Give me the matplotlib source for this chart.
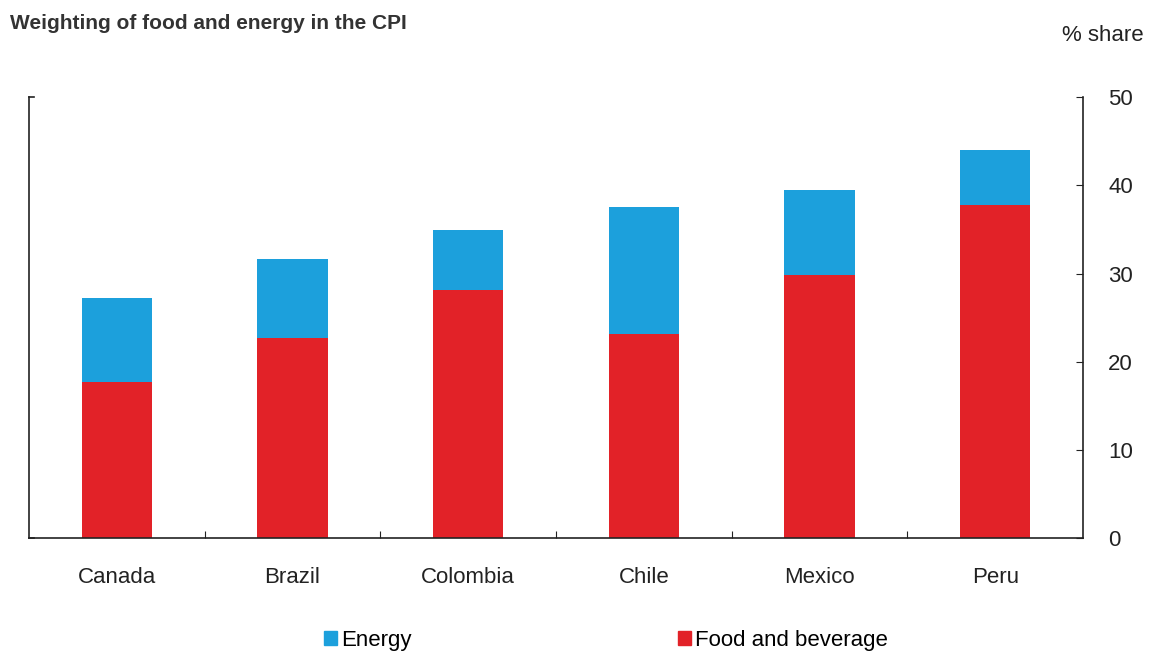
import matplotlib.pyplot as plt
from matplotlib.patches import Patch

plt.rcParams['font.family'] = ['Liberation Sans', 'DejaVu Sans']

countries = ["Canada", "Brazil", "Colombia", "Chile", "Mexico", "Peru"]
food = [17.7, 22.7, 28.1, 23.2, 29.8, 37.8]
energy = [9.5, 9.0, 6.8, 14.3, 9.7, 6.2]

blue = "#1ca0dc"
red = "#e22228"

fig = plt.figure(figsize=(11.56, 6.57), dpi=100)
ax = fig.add_axes([0.025, 0.181, 0.912, 0.671])

xs = range(len(countries))
ax.bar(xs, food, width=0.4, color=red)
ax.bar(xs, energy, width=0.4, bottom=food, color=blue)

ax.set_xlim(-0.5, len(countries) - 0.5)
ax.set_ylim(0, 50)

# right axis carries the labels
ax.spines['top'].set_visible(False)
for s in ['left', 'right', 'bottom']:
    ax.spines[s].set_color('#222222')
    ax.spines[s].set_linewidth(1.2)
ax.yaxis.tick_right()
ax.set_yticks([0, 10, 20, 30, 40, 50])
ax.tick_params(axis='y', direction='in', length=5, labelsize=16, pad=18, colors='#222222')
ax.tick_params(axis='y', right=True, left=False)

ax.set_xticks([i + 0.5 for i in range(len(countries) - 1)])
ax.set_xticklabels([])
ax.set_xticks(list(xs), minor=True)
ax.set_xticklabels(countries, minor=True)
ax.tick_params(axis='x', which='major', direction='in', length=5, color='#222222')
ax.tick_params(axis='x', which='minor', length=0, labelsize=16, pad=21, labelcolor='#222222')

# small ticks on the left spine
ax.plot([-0.5, -0.47], [50, 50], color='#222222', lw=1.2, clip_on=False)
ax.plot([-0.5, -0.47], [0, 0], color='#222222', lw=1.2, clip_on=False)

fig.text(0.009, 0.964, "Weighting of food and energy in the CPI", fontsize=15,
         fontweight='bold', color='#333333', va='center')
fig.text(0.989, 0.946, "% share", fontsize=16, color='#222222', ha='right', va='center')

handles = [Patch(color=blue, label="Energy"), Patch(color=red, label="Food and beverage")]
fig.legend(handles=handles, loc='center', bbox_to_anchor=(0.524, 0.025), ncol=2,
           frameon=False, fontsize=16, handlelength=0.6, handleheight=0.6,
           handletextpad=0.15, columnspacing=12.0)

fig.savefig("out.png", dpi=100)
